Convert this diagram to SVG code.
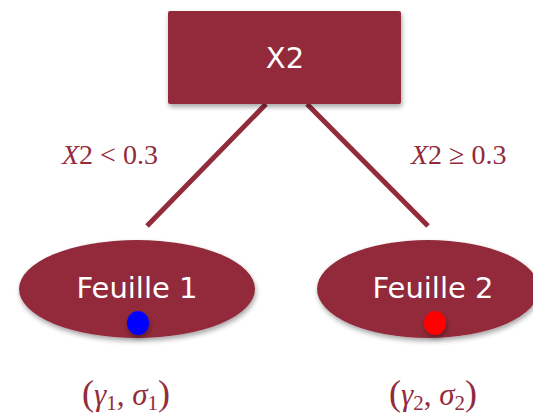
<svg xmlns="http://www.w3.org/2000/svg" width="533" height="416" viewBox="0 0 533 416">
<defs>
<filter id="sh" x="-20%" y="-20%" width="140%" height="150%">
<feDropShadow dx="1" dy="3" stdDeviation="2.5" flood-color="#000" flood-opacity="0.35"/>
</filter>
<style>
.node{fill:#922B3B;filter:url(#sh)}
.lbl{fill:#ffffff;font-family:"DejaVu Sans","Open Sans",sans-serif;font-size:29px;text-anchor:middle}
.math{fill:#922B3B;font-family:"Liberation Serif","DejaVu Serif",serif}
.edge{stroke:#922B3B;stroke-width:5;fill:none}
.dot{filter:url(#sh)}
.it{font-style:italic}
</style>
</defs>
<g id="connectors">
<line class="edge" x1="266" y1="104" x2="147" y2="226"/>
<line class="edge" x1="307" y1="104" x2="428" y2="226"/>
</g>
<g id="root">
<rect class="node" x="168" y="11" width="233" height="93" rx="2"/>
<text class="lbl" x="285" y="68">X2</text>
</g>
<g id="leaf1">
<ellipse class="node" cx="137" cy="289" rx="118" ry="49"/>
<text class="lbl" x="137" y="298">Feuille 1</text>
<ellipse class="dot" cx="138" cy="323" rx="11" ry="12" fill="#0000ff"/>
</g>
<g id="leaf2">
<ellipse class="node" cx="428" cy="289" rx="111" ry="49"/>
<text class="lbl" x="433" y="298">Feuille 2</text>
<ellipse class="dot" cx="435" cy="323" rx="11" ry="12" fill="#ff0000"/>
</g>
<g id="labels">
<text class="math" x="62" y="164" style="font-size:28px"><tspan class="it">X</tspan>2 &lt; 0.3</text>
<text class="math" x="411" y="164" style="font-size:28px"><tspan class="it">X</tspan>2 ≥ 0.3</text>
<text class="math" x="82" y="405" style="font-size:31px"><tspan style="font-size:36px">(</tspan><tspan class="it">γ</tspan><tspan style="font-size:21px" dy="5">1</tspan><tspan dy="-5">, </tspan><tspan class="it">σ</tspan><tspan style="font-size:21px" dy="5">1</tspan><tspan style="font-size:36px" dy="-5">)</tspan></text>
<text class="math" x="389" y="405" style="font-size:31px"><tspan style="font-size:36px">(</tspan><tspan class="it">γ</tspan><tspan style="font-size:21px" dy="5">2</tspan><tspan dy="-5">, </tspan><tspan class="it">σ</tspan><tspan style="font-size:21px" dy="5">2</tspan><tspan style="font-size:36px" dy="-5">)</tspan></text>
</g>
</svg>
